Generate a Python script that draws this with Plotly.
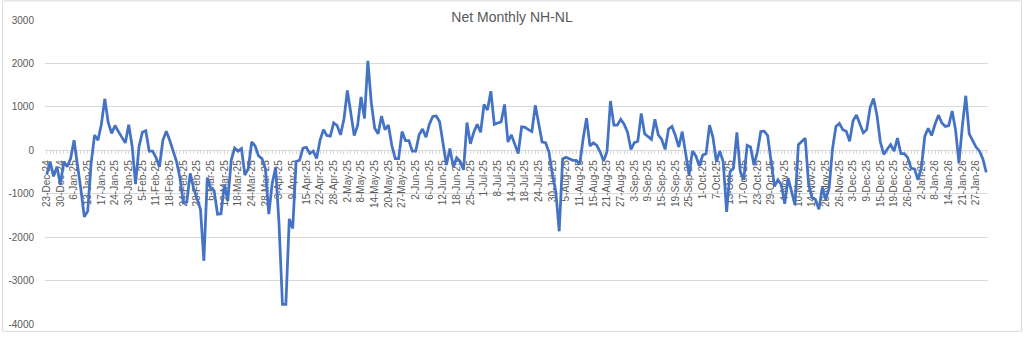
import pandas as pd
import plotly.graph_objects as go

# NYSE trading calendar for the period shown
START = "2024-12-23"
END = "2026-01-30"
MARKET_HOLIDAYS = [
    "2024-12-25", "2025-01-01", "2025-01-09", "2025-01-20", "2025-02-17",
    "2025-04-18", "2025-05-26", "2025-06-19", "2025-07-04", "2025-09-01",
    "2025-11-27", "2025-12-25", "2026-01-01", "2026-01-19",
]

# Net new highs minus new lows (monthly lookback), one value per session
net_nh_nl = [
    -560, -260, -600, -380, -790, -260, -380, -190, 230, -300,
    -900, -1530, -1400, -300, 350, 230, 600, 1185, 640, 390,
    570, 430, 300, 170, 590, 100, -780, 75, 415, 450,
    -20, -20, -170, -380, 230, 440, 230, 0, -260, -640,
    -1210, -1190, -530, -870, -1100, -1360, -2545, -630, -870, -930,
    -1470, -1460, -790, -1170, -230, 50, -20, 40, -570, -420,
    190, 100, -130, -190, -420, -1470, -760, -400, -1700, -3550,
    -3550, -1580, -1800, -260, -230, 50, 70, -75, -20, -190,
    230, 475, 340, 325, 630, 570, 355, 720, 1380, 905,
    340, 570, 1230, 730, 2060, 1095, 505, 380, 790, 475,
    580, 115, -190, -190, 430, 225, 225, -20, -20, 355,
    490, 300, 600, 780, 790, 655, 150, -340, 40, -380,
    -170, -250, -450, 640, 150, 415, 600, 415, 1055, 930,
    1360, 600, 630, 655, 1055, 190, 355, 130, -75, 540,
    530, 475, 430, 1035, 570, 190, 175, -40, -565, -945,
    -1865, -200, -160, -200, -230, -230, -325, 265, 740, 100,
    175, 115, -40, -250, -20, 1135, 580, 580, 715, 600,
    415, 20, 175, 205, 850, 380, 325, 250, 715, 355,
    250, 20, 490, 550, 340, 75, 430, -40, -565, -20,
    -130, -355, -115, -75, 580, 300, -265, -20, -265, -1420,
    -490, -415, 415, -490, -680, 115, 75, -340, -40, 430,
    440, 340, -265, -830, -680, -790, -1230, -640, -945, -1260,
    130, 205, 280, -790, -1095, -1135, -1360, -855, -1135, -870,
    40, 550, 620, 475, 440, 205, 680, 815, 600, 400,
    475, 985, 1190, 810, 190, -95, 25, 130, -20, 280,
    -75, -75, -170, -415, -430, -680, -400, 325, 505, 340,
    600, 810, 630, 550, 570, 905, 475, -290, 570, 1255,
    380, 225, 75, -20, -200, -510,
]

# Value-axis ticks
y_ticks = [-4000, -3000, -2000, -1000, 0, 1000, 2000, 3000]

sessions = pd.bdate_range(START, END, freq="C", holidays=MARKET_HOLIDAYS)
dates = [f"{d.day}-{d.strftime('%b-%y')}" for d in sessions]
assert len(dates) == len(net_nh_nl)

LABEL_EVERY = 4
tick_text = [lab if i % LABEL_EVERY == 0 else "" for i, lab in enumerate(dates)]

Y_MIN, Y_MAX = y_ticks[0], y_ticks[-1]
GRID = "#d9d9d9"
TEXT = "#595959"
FONT = "Liberation Sans"

fig = go.Figure(
    go.Scatter(
        x=dates,
        y=net_nh_nl,
        mode="lines",
        line=dict(color="#4472c4", width=2.75),
        hoverinfo="skip",
    )
)

W, H = 1024, 338
L, R, T, B = 43, 36, 20, 8

fig.update_layout(
    width=W,
    height=H,
    margin=dict(l=L, r=R, t=T, b=B),
    paper_bgcolor="white",
    plot_bgcolor="white",
    showlegend=False,
    font=dict(family=FONT, color=TEXT, size=10),
    title=dict(
        text="Net Monthly NH-NL",
        font=dict(family=FONT, size=14, color=TEXT),
        x=0.5,
        xref="container",
        xanchor="center",
        y=1 - 17 / H,
        yref="container",
        yanchor="middle",
    ),
    xaxis=dict(
        type="category",
        range=[-0.5, len(dates) - 0.5],
        tickmode="array",
        tickvals=dates,
        ticktext=tick_text,
        tickangle=-90,
        ticks="outside",
        ticklen=3,
        tickcolor=GRID,
        showline=True,
        linecolor=GRID,
        linewidth=1,
        showgrid=False,
        anchor="free",
        position=(0 - Y_MIN) / (Y_MAX - Y_MIN),
        layer="below traces",
        tickfont=dict(family=FONT, size=10, color=TEXT),
        ticklabelstandoff=2,
    ),
    yaxis=dict(
        range=[Y_MIN, Y_MAX],
        tickmode="array",
        tickvals=y_ticks,
        ticktext=[str(v) for v in y_ticks],
        showgrid=True,
        gridcolor=GRID,
        gridwidth=1,
        zeroline=False,
        showline=False,
        ticks="",
        ticklabelstandoff=10,
        tickfont=dict(family=FONT, size=10, color=TEXT),
    ),
)

# thin frame around the chart area
fig.add_shape(
    type="rect",
    xref="paper",
    yref="paper",
    x0=(0.5 - L) / (W - L - R),
    x1=(1021.5 - L) / (W - L - R),
    y0=(H - B - 337.5) / (H - T - B),
    y1=(H - B - 0.5) / (H - T - B),
    line=dict(color=GRID, width=1),
    fillcolor="rgba(0,0,0,0)",
    layer="below",
)

fig.write_html("out.html")
